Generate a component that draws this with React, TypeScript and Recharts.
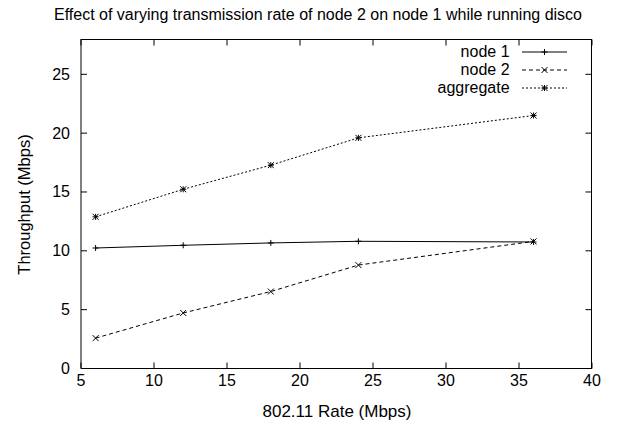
import { LineChart, Line, XAxis, YAxis } from "recharts";

const rates = [6, 12, 18, 24, 36];
const node1 = [10.24, 10.47, 10.67, 10.81, 10.75];
const node2 = [2.58, 4.72, 6.54, 8.79, 10.8];
const aggregate = [12.89, 15.23, 17.28, 19.6, 21.5];

const xTicks = [5, 10, 15, 20, 25, 30, 35, 40];
const yTicks = [0, 5, 10, 15, 20, 25];

const seriesNames = ["node 1", "node 2", "aggregate"];
const seriesKeys = ["node1", "node2", "aggregate"];
const dashes = ["", "4 3", "2 2"];
const markers = ["plus", "cross", "star"];

const data = rates.map((r, i) => ({ rate: r, node1: node1[i], node2: node2[i], aggregate: aggregate[i] }));

const FONT = "'Liberation Sans', Arial, Helvetica, sans-serif";

// layout of the plot box
const W = 628;
const H = 424;
const MARGIN = { top: 39, right: 36, bottom: 15.5, left: 21 };
const X_AXIS_H = 40;
const Y_AXIS_W = 60;
const PLOT_LEFT = MARGIN.left + Y_AXIS_W;
const PLOT_TOP = MARGIN.top;
const PLOT_RIGHT = W - MARGIN.right;
const PLOT_BOTTOM = H - MARGIN.bottom - X_AXIS_H;
const TICK = 6;

function Marker({ cx, cy, kind }: { cx: number; cy: number; kind: string }) {
  const s = 3;
  return (
    <g stroke="#000" strokeWidth={1}>
      {(kind === "plus" || kind === "star") && (
        <>
          <line x1={cx - s} y1={cy} x2={cx + s} y2={cy} />
          <line x1={cx} y1={cy - s} x2={cx} y2={cy + s} />
        </>
      )}
      {(kind === "cross" || kind === "star") && (
        <>
          <line x1={cx - s} y1={cy - s} x2={cx + s} y2={cy + s} />
          <line x1={cx - s} y1={cy + s} x2={cx + s} y2={cy - s} />
        </>
      )}
    </g>
  );
}

// gnuplot style: ticks point inward, mirrored on the opposite side
function BottomTick({ x, y, payload }: any) {
  return (
    <g>
      <line x1={x} y1={y} x2={x} y2={y - TICK} stroke="#000" />
      <line x1={x} y1={PLOT_TOP + 0.5} x2={x} y2={PLOT_TOP + 0.5 + TICK} stroke="#000" />
      <text x={x} y={y + 17.5} textAnchor="middle" fontSize={16} fontFamily={FONT} fill="#000">
        {payload.value}
      </text>
    </g>
  );
}

function LeftTick({ x, y, payload }: any) {
  return (
    <g>
      <line x1={x} y1={y} x2={x + TICK} y2={y} stroke="#000" />
      <line x1={PLOT_RIGHT - 0.5} y1={y} x2={PLOT_RIGHT - 0.5 - TICK} y2={y} stroke="#000" />
      <text x={x - 11} y={y + 5.5} textAnchor="end" fontSize={16} fontFamily={FONT} fill="#000">
        {payload.value}
      </text>
    </g>
  );
}

export default function App() {
  return (
    <div style={{ position: "absolute", left: 0, top: 0, width: W, height: H, background: "#fff", fontFamily: FONT }}>
      <LineChart width={W} height={H} data={data} margin={MARGIN}>
        <XAxis
          type="number"
          dataKey="rate"
          domain={[5, 40]}
          ticks={xTicks}
          height={X_AXIS_H}
          stroke="#000"
          tickLine={false}
          tickSize={0}
          tickMargin={0}
          tick={BottomTick}
          interval={0}
        />
        <YAxis
          type="number"
          domain={[0, 28]}
          ticks={yTicks}
          width={Y_AXIS_W}
          stroke="#000"
          tickLine={false}
          tickSize={0}
          tickMargin={0}
          tick={LeftTick}
          interval={0}
        />
        {seriesKeys.map((k, i) => (
          <Line
            key={k}
            dataKey={k}
            name={seriesNames[i]}
            type="linear"
            stroke="#000"
            strokeWidth={1}
            strokeDasharray={dashes[i] || undefined}
            isAnimationActive={false}
            dot={(p: any) => <Marker key={`${k}-${p.index}`} cx={p.cx} cy={p.cy} kind={markers[i]} />}
            activeDot={false}
          />
        ))}
      </LineChart>

      {/* top and right edges of the plot frame */}
      <div
        style={{
          position: "absolute",
          left: PLOT_LEFT,
          top: PLOT_TOP,
          width: PLOT_RIGHT - PLOT_LEFT,
          height: PLOT_BOTTOM - PLOT_TOP,
          borderTop: "1px solid #000",
          borderRight: "1px solid #000",
          boxSizing: "border-box",
          pointerEvents: "none",
        }}
      />

      <div style={{ position: "absolute", top: 5, left: 0, width: 636, textAlign: "center", fontSize: 16, lineHeight: "19px" }}>
        Effect of varying transmission rate of node 2 on node 1 while running disco
      </div>
      <div style={{ position: "absolute", top: 402, left: 237, width: 200, textAlign: "center", fontSize: 17, lineHeight: "19px" }}>
        802.11 Rate (Mbps)
      </div>
      <div
        style={{
          position: "absolute",
          top: 195,
          left: -76,
          width: 200,
          textAlign: "center",
          fontSize: 16.5,
          lineHeight: "19px",
          transform: "rotate(-90deg)",
        }}
      >
        Throughput (Mbps)
      </div>

      {seriesNames.map((n, i) => (
        <div key={n} style={{ position: "absolute", left: 380, top: 43 + i * 18, width: 200, height: 18, display: "flex", alignItems: "center" }}>
          <span style={{ width: 133, textAlign: "right", fontSize: 16, lineHeight: "18px" }}>{n}</span>
          <svg width={60} height={18} style={{ marginLeft: 12 }}>
            <line x1={0} y1={9} x2={45} y2={9} stroke="#000" strokeWidth={1} strokeDasharray={dashes[i] || undefined} />
            <Marker cx={22.5} cy={9} kind={markers[i]} />
          </svg>
        </div>
      ))}
    </div>
  );
}
